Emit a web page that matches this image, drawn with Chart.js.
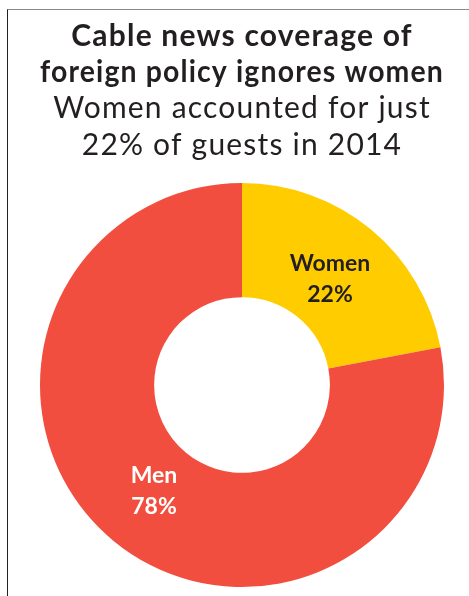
<!DOCTYPE html>
<html>
<head>
<meta charset="utf-8">
<script src="https://cdn.jsdelivr.net/npm/chart.js@4.4.1/dist/chart.umd.min.js"></script>
<style>
  html, body { margin: 0; padding: 0; background: #ffffff; }
  #wrap { position: relative; width: 469px; height: 596px; overflow: hidden; }
  #frame { position: absolute; left: 7px; top: 9px; right: -10px; bottom: -10px;
           border-top: 1.5px solid #8a8a8a; border-left: 1.5px solid #222; }
  #chart { position: absolute; left: 0; top: 0; }
</style>
</head>
<body>
<div id="wrap">
  <div id="frame"></div>
  <canvas id="chart" width="469" height="596"></canvas>
</div>
<script>
// Guests on cable-news foreign policy segments, 2014
const categories = ['Women', 'Men'];
const shares = [22, 78];
const sliceColors = ['#FFCC00', '#F24E3F'];
const labelColors = ['#231F20', '#FFFFFF'];

const titleLines = ['Cable news coverage of', 'foreign policy ignores women'];
const subtitleLines = ['Women accounted for just', '22% of guests in 2014'];

const FONT = 'Lato, "Open Sans", sans-serif';

// Slightly open tracking for the heading text only
const headingTracking = {
  id: 'headingTracking',
  beforeDraw(chart) { chart.ctx.letterSpacing = '1.2px'; },
  beforeDatasetsDraw(chart) { chart.ctx.letterSpacing = '0px'; }
};

// Writes category name and percent inside each slice
const sliceLabels = {
  id: 'sliceLabels',
  afterDatasetsDraw(chart) {
    const ctx = chart.ctx;
    const meta = chart.getDatasetMeta(0);
    ctx.save();
    ctx.letterSpacing = '0px';
    ctx.textAlign = 'center';
    ctx.textBaseline = 'middle';
    ctx.font = 'bold 23px ' + FONT;
    meta.data.forEach((arc, i) => {
      const a = arc.getProps(['x', 'y', 'startAngle', 'endAngle', 'innerRadius', 'outerRadius']);
      const mid = (a.startAngle + a.endAngle) / 2;
      const r = a.innerRadius + (a.outerRadius - a.innerRadius) * 0.44;
      const px = a.x + Math.cos(mid) * r;
      const py = a.y + Math.sin(mid) * r;
      ctx.fillStyle = labelColors[i];
      ctx.fillText(categories[i], px, py - 15.5);
      ctx.fillText(shares[i] + '%', px, py + 15.5);
    });
    ctx.restore();
  }
};

new Chart(document.getElementById('chart'), {
  type: 'doughnut',
  data: {
    labels: categories,
    datasets: [{
      data: shares,
      backgroundColor: sliceColors,
      borderWidth: 0,
      hoverOffset: 0
    }]
  },
  options: {
    responsive: false,
    animation: false,
    cutout: '43.5%',
    layout: { padding: { left: 40, right: 25, top: 0, bottom: 9 } },
    plugins: {
      legend: { display: false },
      tooltip: { enabled: false },
      title: {
        display: true,
        text: titleLines,
        color: '#231F20',
        font: { family: FONT, size: 30, weight: 'bold', lineHeight: '36px' },
        padding: { top: 18, bottom: 0 }
      },
      subtitle: {
        display: true,
        text: subtitleLines,
        color: '#231F20',
        font: { family: FONT, size: 30, weight: 'normal', lineHeight: '37px' },
        padding: { top: 0, bottom: 19 }
      }
    }
  },
  plugins: [headingTracking, sliceLabels]
});
</script>
</body>
</html>
